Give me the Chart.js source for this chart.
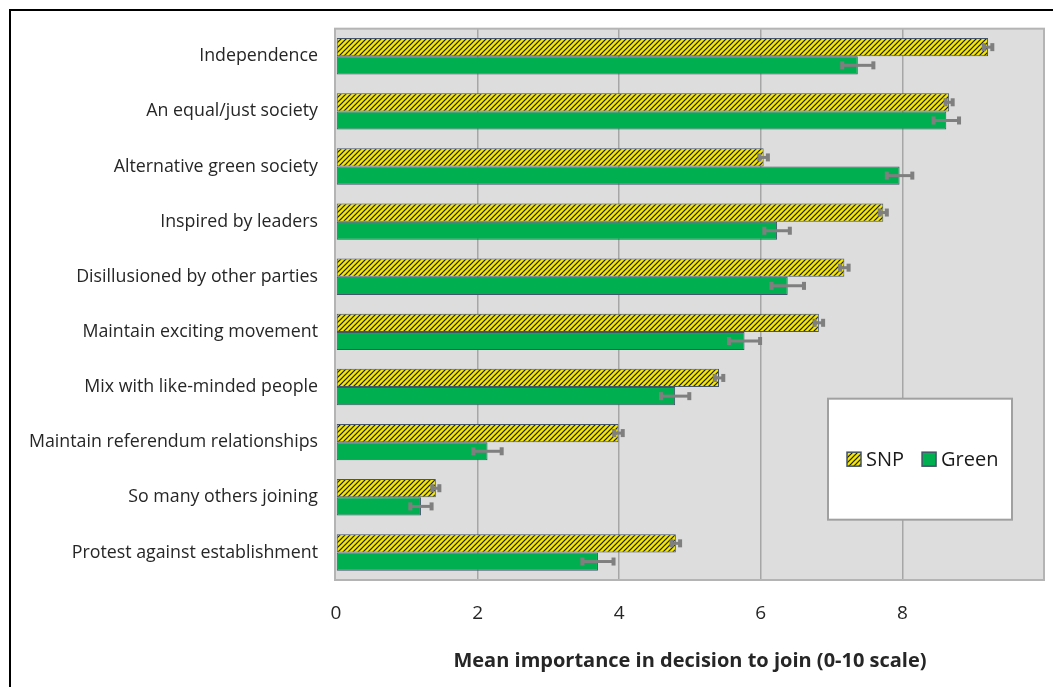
<!DOCTYPE html>
<html>
<head>
<meta charset="utf-8">
<script src="https://cdn.jsdelivr.net/npm/chart.js@4/dist/chart.umd.min.js"></script>
<style>
html,body{margin:0;padding:0;background:#fff;}
#wrap{position:relative;width:1053px;height:687px;}
</style>
</head>
<body>
<div id="wrap"><canvas id="c" width="1053" height="687"></canvas></div>
<script>
const categories = [
  "Independence",
  "An equal/just society",
  "Alternative green society",
  "Inspired by leaders",
  "Disillusioned by other parties",
  "Maintain exciting movement",
  "Mix with like-minded people",
  "Maintain referendum relationships",
  "So many others joining",
  "Protest against establishment"
];
const snpValues   = [9.21, 8.66, 6.04, 7.73, 7.18, 6.82, 5.41, 3.99, 1.41, 4.80];
const snpErrors   = [0.06, 0.05, 0.06, 0.05, 0.06, 0.06, 0.06, 0.06, 0.05, 0.06];
const greenValues = [7.37, 8.62, 7.96, 6.23, 6.38, 5.77, 4.79, 2.14, 1.20, 3.70];
const greenErrors = [0.22, 0.18, 0.18, 0.18, 0.23, 0.22, 0.20, 0.20, 0.15, 0.22];
const xTicks = [0, 2, 4, 6, 8];
const xMax = 10;
const seriesNames = ["SNP", "Green"];
const axisTitle = "Mean importance in decision to join (0-10 scale)";

const FONT = "'Open Sans', 'Liberation Sans', sans-serif";

function hatchPattern(){
  const s = 5;
  const p = document.createElement('canvas');
  p.width = s; p.height = s;
  const g = p.getContext('2d');
  g.fillStyle = '#f5e800';
  g.fillRect(0,0,s,s);
  g.strokeStyle = '#1a1a1a';
  g.lineWidth = 1.2;
  g.beginPath();
  g.moveTo(-1, s+1); g.lineTo(s+1, -1);
  g.moveTo(-1, 1); g.lineTo(1, -1);
  g.moveTo(s-1, s+1); g.lineTo(s+1, s-1);
  g.stroke();
  return document.getElementById('c').getContext('2d').createPattern(p, 'repeat');
}
const snpFill = hatchPattern();
const greenFill = '#00b050';
const barBorder = '#44546a';

const backgroundPlugin = {
  id: 'bg',
  beforeDraw(chart){
    const {ctx, chartArea:a} = chart;
    ctx.save();
    ctx.fillStyle = '#dddddd';
    ctx.fillRect(a.left, a.top, a.right-a.left, a.bottom-a.top);
    ctx.restore();
  },
  beforeDatasetsDraw(chart){
    const {ctx, chartArea:a} = chart;
    ctx.save();
    ctx.strokeStyle = '#b4b4b4';
    ctx.lineWidth = 2;
    ctx.strokeRect(a.left-1, a.top, a.right-a.left+1, a.bottom-a.top);
    ctx.restore();
  },
  afterDraw(chart){
    const ctx = chart.ctx;
    ctx.save();
    ctx.fillStyle = '#000';
    ctx.fillRect(9, 9, 2, chart.height-9);
    ctx.fillRect(9, 9, chart.width-9, 2);
    ctx.restore();
  }
};

const errorBarPlugin = {
  id: 'errbars',
  afterDatasetsDraw(chart){
    const ctx = chart.ctx;
    const xs = chart.scales.x;
    const errs = [snpErrors, greenErrors];
    const vals = [snpValues, greenValues];
    ctx.save();
    ctx.strokeStyle = '#7f7f7f';
    ctx.fillStyle = '#7f7f7f';
    ctx.lineWidth = 3;
    chart.data.datasets.forEach((ds, di) => {
      const meta = chart.getDatasetMeta(di);
      meta.data.forEach((bar, i) => {
        const v = vals[di][i], e = errs[di][i];
        const x1 = xs.getPixelForValue(v - e);
        const x2 = xs.getPixelForValue(v + e);
        const y = bar.y;
        ctx.beginPath();
        ctx.moveTo(x1, y); ctx.lineTo(x2, y);
        ctx.stroke();
        ctx.fillRect(x1-2, y-4, 4, 8);
        ctx.fillRect(x2-2, y-4, 4, 8);
      });
    });
    ctx.restore();
  }
};

const legendPlugin = {
  id: 'boxLegend',
  afterDraw(chart){
    const ctx = chart.ctx;
    const a = chart.chartArea;
    const bx = a.right - 216, by = a.top + 370, bw = 184, bh = 121;
    ctx.save();
    ctx.fillStyle = '#fff';
    ctx.fillRect(bx, by, bw, bh);
    ctx.strokeStyle = '#a0a0a0';
    ctx.lineWidth = 2;
    ctx.strokeRect(bx, by, bw, bh);
    ctx.font = "20px " + FONT;
    ctx.textBaseline = 'middle';
    const cy = by + bh/2;
    let x = bx + 19;
    chart.data.datasets.forEach((ds) => {
      ctx.fillStyle = ds.backgroundColor;
      ctx.fillRect(x, cy-7, 14, 14);
      ctx.strokeStyle = barBorder;
      ctx.lineWidth = 1.5;
      ctx.strokeRect(x, cy-7, 14, 14);
      ctx.fillStyle = '#1a1a1a';
      ctx.fillText(ds.label, x + 19, cy + 1);
      x += 19 + ctx.measureText(ds.label).width + 18;
    });
    ctx.restore();
  }
};

new Chart(document.getElementById('c'), {
  type: 'bar',
  data: {
    labels: categories,
    datasets: [
      { label: seriesNames[0], data: snpValues, backgroundColor: snpFill,
        borderColor: barBorder, borderWidth: 1, borderSkipped: false,
        categoryPercentage: 0.66, barPercentage: 1 },
      { label: seriesNames[1], data: greenValues, backgroundColor: greenFill,
        borderColor: barBorder, borderWidth: 1, borderSkipped: false,
        categoryPercentage: 0.66, barPercentage: 1 }
    ]
  },
  options: {
    indexAxis: 'y',
    responsive: false,
    animation: false,
    layout: { padding: { left: 0, top: 26, right: 9, bottom: 0 } },
    plugins: { legend: { display: false }, tooltip: { enabled: false } },
    scales: {
      x: {
        min: 0, max: xMax,
        afterBuildTicks(scale){ scale.ticks = xTicks.map(v => ({ value: v })); },
        afterFit(scale){ scale.height = 107; },
        grid: { color: ctx => ctx.tick && ctx.tick.value === 0 ? 'rgba(0,0,0,0)' : '#a6a6a6',
                lineWidth: 1.5, drawTicks: false },
        border: { display: false },
        ticks: { padding: 22, color: '#262626', font: { family: FONT, size: 19 } },
        title: { display: true, text: axisTitle, color: '#262626',
                 font: { family: FONT, size: 20, weight: 'bold' },
                 padding: { top: 0, bottom: 14 } }
      },
      y: {
        afterFit(scale){ scale.width = 336; },
        grid: { display: false, drawTicks: false },
        border: { display: false },
        ticks: { padding: 18, color: '#262626', font: { family: FONT, size: 17.8 } }
      }
    }
  },
  plugins: [backgroundPlugin, errorBarPlugin, legendPlugin]
});
</script>
</body>
</html>
